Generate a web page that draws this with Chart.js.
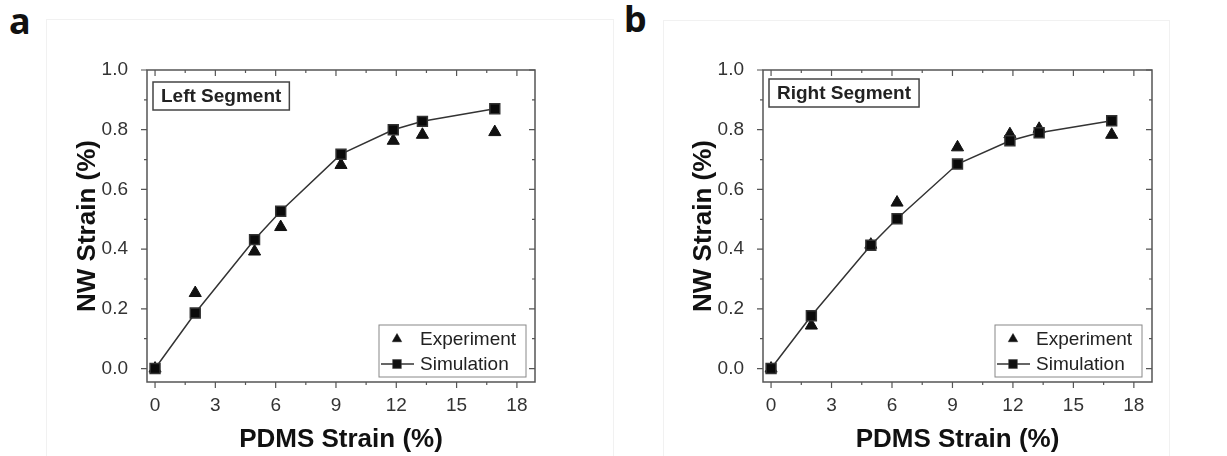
<!DOCTYPE html>
<html>
<head>
<meta charset="utf-8">
<script src="https://cdn.jsdelivr.net/npm/chart.js@4.4.1/dist/chart.umd.min.js"></script>
<style>
    body { margin: 0; background: #fff; width: 1227px; height: 456px; position: relative; overflow: hidden; }
    .panel { position: absolute; border: 1px solid #f1f1f1; }
    .tag { position: absolute; font: bold 36px "Noto Sans", "DejaVu Sans", sans-serif; line-height: 1; color: #111; }
    .wrap { position: absolute; top: 0; height: 456px; }
</style>
</head>
<body>
<div class="panel" style="left:46px;top:19px;width:566px;height:440px"></div>
<div class="panel" style="left:663px;top:20px;width:505px;height:440px"></div>
<div class="tag" style="left:9px;top:3px">a</div>
<div class="tag" style="left:624px;top:1px">b</div>
<div class="wrap" style="left:0;width:616px"><canvas id="chartA" width="616" height="456"></canvas></div>
<div class="wrap" style="left:616px;width:611px"><canvas id="chartB" width="611" height="456"></canvas></div>

<script>

const pdmsStrain = [0, 2, 4.95, 6.25, 9.25, 11.85, 13.3, 16.9]

const leftExperiment = [0, 0.253, 0.392, 0.474, 0.682, 0.763, 0.783, 0.792]
const leftSimulation = [0, 0.186, 0.432, 0.527, 0.718, 0.800, 0.828, 0.870]

const rightExperiment = [0, 0.144, 0.415, 0.556, 0.741, 0.785, 0.803, 0.783]
const rightSimulation = [0, 0.177, 0.413, 0.502, 0.685, 0.763, 0.790, 0.830]

const xTicks = [0, 3, 6, 9, 12, 15, 18]
const yTicks = [0, 0.2, 0.4, 0.6, 0.8, 1.0]

const seriesNames = ["Experiment", "Simulation"]

const FONT = '"Liberation Sans", Arial, sans-serif'


// frame with Origin-like ticks: out on bottom/left, in on top/right
const framePlugin = {
    id: "frame",
    beforeDatasetsDraw(chart) {
        const { ctx, chartArea: a, scales } = chart
        const xs = scales.x, ys = scales.y
        ctx.save()
        ctx.strokeStyle = "#555"
        ctx.lineWidth = 1.5
        ctx.strokeRect(a.left, a.top, a.right - a.left, a.bottom - a.top)
        ctx.lineWidth = 1.2
        ctx.beginPath()
        const xMinor = xTicks.slice(1).map((v, i) => (v + xTicks[i]) / 2)
        const yMinor = yTicks.slice(1).map((v, i) => (v + yTicks[i]) / 2)
        xTicks.forEach(v => {
            const px = xs.getPixelForValue(v)
            ctx.moveTo(px, a.bottom); ctx.lineTo(px, a.bottom + 6)
            ctx.moveTo(px, a.top); ctx.lineTo(px, a.top + 6)
        })
        xMinor.forEach(v => {
            const px = xs.getPixelForValue(v)
            ctx.moveTo(px, a.bottom); ctx.lineTo(px, a.bottom + 3)
            ctx.moveTo(px, a.top); ctx.lineTo(px, a.top + 3)
        })
        yTicks.forEach(v => {
            const py = ys.getPixelForValue(v)
            ctx.moveTo(a.left, py); ctx.lineTo(a.left - 6, py)
            ctx.moveTo(a.right, py); ctx.lineTo(a.right - 6, py)
        })
        yMinor.forEach(v => {
            const py = ys.getPixelForValue(v)
            ctx.moveTo(a.left, py); ctx.lineTo(a.left - 3, py)
            ctx.moveTo(a.right, py); ctx.lineTo(a.right - 3, py)
        })
        ctx.stroke()
        ctx.restore()
    }
}


// boxed label in the corner and boxed legend at bottom right
const boxesPlugin = {
    id: "boxes",
    afterDatasetsDraw(chart, args, opts) {
        const { ctx } = chart
        ctx.save()

        // segment label
        ctx.font = "bold 19px " + FONT
        const tw = ctx.measureText(opts.label).width
        const lb = opts.labelBox
        ctx.fillStyle = "#fff"
        ctx.fillRect(lb.left, lb.top, tw + 16, lb.height)
        ctx.strokeStyle = "#444"
        ctx.lineWidth = 1.5
        ctx.strokeRect(lb.left, lb.top, tw + 16, lb.height)
        ctx.fillStyle = "#222"
        ctx.textBaseline = "middle"
        ctx.fillText(opts.label, lb.left + 8, lb.top + lb.height / 2 + 1)

        // legend
        const g = opts.legendBox
        ctx.fillStyle = "#fff"
        ctx.fillRect(g.left, g.top, g.width, g.height)
        ctx.strokeStyle = "#888"
        ctx.lineWidth = 1
        ctx.strokeRect(g.left, g.top, g.width, g.height)
        ctx.font = "19px " + FONT
        chart.data.datasets.forEach((ds, i) => {
            const y = g.top + 14 + i * 25
            const cx = g.left + 18
            if (ds.showLine) {
                ctx.strokeStyle = ds.borderColor
                ctx.lineWidth = ds.borderWidth
                ctx.beginPath()
                ctx.moveTo(g.left + 2, y); ctx.lineTo(g.left + 35, y)
                ctx.stroke()
            }
            Chart.helpers.drawPoint(ctx, {
                pointStyle: ds.pointStyle,
                radius: ds.pointRadius - 1.5,
                rotation: 0,
                borderWidth: 1
            }, cx, y)
            ctx.fillStyle = "#111"
            ctx.strokeStyle = "#111"
            ctx.fill()
            ctx.fillStyle = "#222"
            ctx.fillText(ds.label, g.left + 41, y + 1)
        })
        ctx.restore()
    }
}


function makeChart(id, expValues, simValues, label, rightPad) {

    const expPoints = pdmsStrain.map((x, i) => ({ x: x, y: expValues[i] }))
    const simPoints = pdmsStrain.map((x, i) => ({ x: x, y: simValues[i] }))

    return new Chart(document.getElementById(id), {
        type: "scatter",
        data: {
            datasets: [
                {
                    label: seriesNames[0],
                    data: expPoints,
                    showLine: false,
                    pointStyle: "triangle",
                    pointRadius: 7,
                    backgroundColor: "#111",
                    borderColor: "#111",
                    borderWidth: 1,
                    order: 1
                },
                {
                    label: seriesNames[1],
                    data: simPoints,
                    showLine: true,
                    pointStyle: "rect",
                    pointRadius: 7,
                    backgroundColor: "#0a0a0a",
                    borderColor: "#333",
                    borderWidth: 1.5,
                    order: 0
                }
            ]
        },
        options: {
            responsive: false,
            animation: false,
            layout: {
                padding: { top: 70, right: rightPad, left: 0, bottom: 0 }
            },
            plugins: {
                legend: { display: false },
                tooltip: { enabled: false },
                boxes: {
                    label: label,
                    labelBox: { left: 153, top: label.startsWith("Left") ? 82 : 79, height: 28 },
                    legendBox: { left: 379, top: 325, width: 147, height: 52 }
                }
            },
            scales: {
                x: {
                    type: "linear",
                    min: -0.4,
                    max: 18.9,
                    afterBuildTicks: s => { s.ticks = xTicks.map(v => ({ value: v })) },
                    afterFit: s => { s.height = 74 },
                    grid: { display: false },
                    border: { display: false },
                    ticks: {
                        padding: 4,
                        color: "#333",
                        font: { family: FONT, size: 19 }
                    },
                    title: {
                        display: true,
                        text: "PDMS Strain (%)",
                        color: "#111",
                        font: { family: FONT, size: 26, weight: "bold" },
                        padding: { top: 0, bottom: 1 }
                    }
                },
                y: {
                    min: -0.045,
                    max: 1.0,
                    afterBuildTicks: s => { s.ticks = yTicks.map(v => ({ value: v })) },
                    afterFit: s => { s.width = 147 },
                    grid: { display: false },
                    border: { display: false },
                    ticks: {
                        padding: 11,
                        color: "#333",
                        font: { family: FONT, size: 19 },
                        callback: v => v.toFixed(1)
                    },
                    title: {
                        display: true,
                        text: "NW Strain (%)",
                        color: "#111",
                        font: { family: FONT, size: 26, weight: "bold" },
                        padding: { top: 72, bottom: 0 }
                    }
                }
            }
        },
        plugins: [framePlugin, boxesPlugin]
    })
}

makeChart("chartA", leftExperiment, leftSimulation, "Left Segment", 81)
makeChart("chartB", rightExperiment, rightSimulation, "Right Segment", 75)

</script>
</body>
</html>
